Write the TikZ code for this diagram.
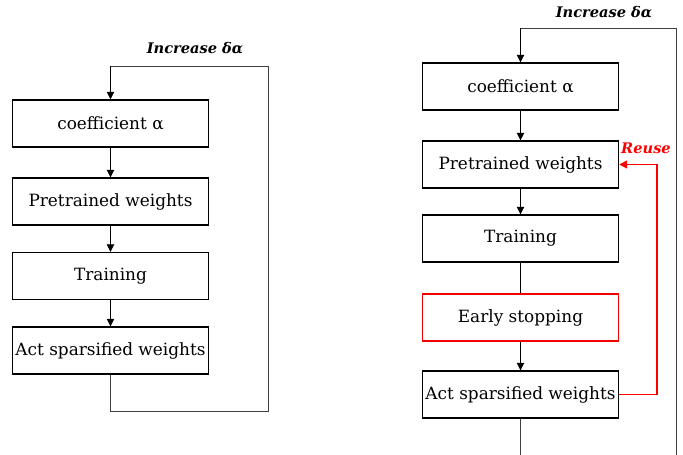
\documentclass[tikz,border=0pt]{standalone}
\usepackage{fontspec}
\setmainfont{DejaVu Serif}
\usetikzlibrary{arrows.meta}
\begin{document}
\begin{tikzpicture}[x=1pt,y=-1pt,
  box/.style={draw=black,line width=1.4pt,minimum width=196pt,minimum height=47pt,inner sep=0pt,font=\fontsize{16.9}{19}\selectfont},
  redbox/.style={box,draw=red!95!black},
  conn/.style={line width=0.8pt,-{Triangle[width=7.5pt,length=7.5pt]}},
  plain/.style={line width=0.8pt},
  loop/.style={line width=0.8pt,draw=black!75},
  lbl/.style={font=\fontsize{14.6}{16}\selectfont\bfseries\itshape}]
\useasboundingbox (0,0) rectangle (683,455);
% left
\node[box] (a1) at (110.5,123.5) {coefficient α};
\node[box] (a2) at (110.5,201.5) {Pretrained weights};
\node[box] (a3) at (110.5,276) {Training};
\node[box] (a4) at (110.5,350.5) {Act sparsified weights};
\draw[conn] (a1) -- (a2);
\draw[conn] (a2) -- (a3);
\draw[conn] (a3) -- (a4);
\coordinate (lA) at (110.5,411);
\coordinate (lB) at (268,411);
\coordinate (lC) at (268,66);
\coordinate (lD) at (110.5,66);
\draw[loop] (a4.south) -- (lA) -- (lB) -- (lC) -- (lD);
\draw[conn] (lD) -- (a1.north);
\node[lbl,anchor=base] (la) at (195,53) {Increase δα};
% right
\node[box] (b1) at (520.5,86.5) {coefficient α};
\node[box] (b2) at (520.5,164.5) {Pretrained weights};
\node[box] (b3) at (520.5,238.5) {Training};
\node[redbox] (b4) at (520.5,317.5) {Early stopping};
\node[box] (b5) at (520.5,394.5) {Act sparsified weights};
\draw[conn] (b1) -- (b2);
\draw[conn] (b2) -- (b3);
\draw[plain] (b3) -- (b4);
\draw[conn] (b4) -- (b5);
\coordinate (rA) at (520.5,455);
\coordinate (rB) at (676,455);
\coordinate (rC) at (676,28);
\coordinate (rD) at (520.5,28);
\draw[loop] (b5.south) -- (rA) -- (rB) -- (rC) -- (rD);
\draw[conn] (rD) -- (b1.north);
\node[lbl,anchor=base] (lb) at (604,17) {Increase δα};
\draw[line width=1.5pt,draw=red,-{Triangle[width=8pt,length=8pt]}] (b5.east) -- ++(38,0) |- (b2.east);
\node[lbl,text=red,anchor=base] (ru) at (646,153) {Reuse};
\end{tikzpicture}
\end{document}
